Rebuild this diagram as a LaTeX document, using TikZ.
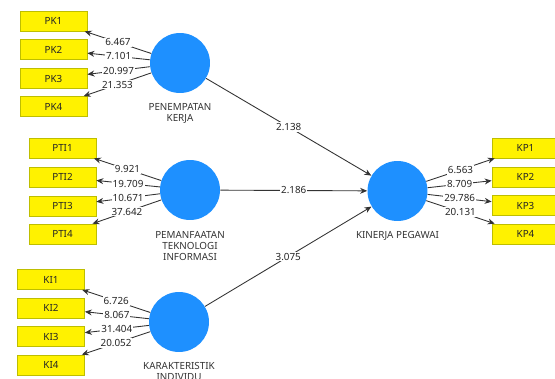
\documentclass[tikz,border=0pt]{standalone}
\usepackage{fontspec}
\setmainfont{Noto Sans}
\usetikzlibrary{positioning,arrows.meta}

\definecolor{plsblue}{RGB}{30,144,255}
\definecolor{boxedge}{RGB}{190,190,0}

\tikzset{
  construct/.style={circle, fill=plsblue, minimum size=1.2cm, inner sep=0pt},
  indicator/.style={draw=boxedge, fill=yellow, minimum width=1.34cm, minimum height=0.4cm,
    inner sep=0pt, text=black!85, font=\fontsize{5.6}{6.4}\selectfont},
  cname/.style={align=center, inner sep=0pt, text=black!80, font=\fontsize{5.6}{6.2}\selectfont},
  link/.style={draw=black!80, line width=0.5pt, -{Stealth[length=4pt,width=3.4pt]}},
  weight/.style={midway, fill=white, inner sep=0.6pt, text=black!85, font=\fontsize{5.6}{6.4}\selectfont}
}

\begin{document}
\begin{tikzpicture}[x=0.02cm, y=-0.02cm]

    % --- Frame ---
    % Picture area, cut like the screenshot
    \useasboundingbox (0,0) rectangle (555,379);
    \clip (0,0) rectangle (555,379);

    % --- Constructs ---
    \node[construct] (pk)  at (180,63)    {};
    \node[construct] (pti) at (190,190)   {};
    \node[construct] (ki)  at (179,322)   {};
    \node[construct] (kp)  at (397.5,191) {};

    % --- Construct names ---
    \node[cname, below=0.2cm of pk]  (pkname)  {PENEMPATAN\\KERJA};
    \node[cname, below=0.22cm of pti] (ptiname) {PEMANFAATAN\\TEKNOLOGI\\INFORMASI};
    \node[cname, below=0.2cm of ki]  (kiname)  {KARAKTERISTIK\\INDIVIDU};
    \node[cname, below=0.2cm of kp]  (kpname)  {KINERJA PEGAWAI};

    % --- Indicators ---
    % Left column, PENEMPATAN KERJA
    \node[indicator] (pk1) at (53.5,21)    {PK1};
    \node[indicator] (pk2) at (53.5,49.5)  {PK2};
    \node[indicator] (pk3) at (53.5,78.5)  {PK3};
    \node[indicator] (pk4) at (53.5,106.5) {PK4};

    % Left column, PEMANFAATAN TEKNOLOGI INFORMASI
    \node[indicator] (pti1) at (62.5,148) {PTI1};
    \node[indicator] (pti2) at (62.5,177) {PTI2};
    \node[indicator] (pti3) at (62.5,206) {PTI3};
    \node[indicator] (pti4) at (62.5,234) {PTI4};

    % Left column, KARAKTERISTIK INDIVIDU
    \node[indicator] (ki1) at (51,279.5) {KI1};
    \node[indicator] (ki2) at (51,308)   {KI2};
    \node[indicator] (ki3) at (51,336.5) {KI3};
    \node[indicator] (ki4) at (51,365)   {KI4};

    % Right column, KINERJA PEGAWAI
    \node[indicator] (kp1) at (525.5,148)   {KP1};
    \node[indicator] (kp2) at (525.5,177)   {KP2};
    \node[indicator] (kp3) at (525.5,205.5) {KP3};
    \node[indicator] (kp4) at (525.5,234)   {KP4};

    % --- Outer loadings ---
    \draw[link] (pk) -- node[weight] {6.467}  (pk1);
    \draw[link] (pk) -- node[weight] {7.101}  (pk2);
    \draw[link] (pk) -- node[weight] {20.997} (pk3);
    \draw[link] (pk) -- node[weight] {21.353} (pk4);

    \draw[link] (pti) -- node[weight] {9.921}  (pti1);
    \draw[link] (pti) -- node[weight] {19.709} (pti2);
    \draw[link] (pti) -- node[weight] {10.671} (pti3);
    \draw[link] (pti) -- node[weight] {37.642} (pti4);

    \draw[link] (ki) -- node[weight] {6.726}  (ki1);
    \draw[link] (ki) -- node[weight] {8.067}  (ki2);
    \draw[link] (ki) -- node[weight] {31.404} (ki3);
    \draw[link] (ki) -- node[weight] {20.052} (ki4);

    \draw[link] (kp) -- node[weight] {6.563}  (kp1);
    \draw[link] (kp) -- node[weight] {8.709}  (kp2);
    \draw[link] (kp) -- node[weight] {29.786} (kp3);
    \draw[link] (kp) -- node[weight] {20.131} (kp4);

    % --- Inner paths ---
    \draw[link] (pk)  -- node[weight] {2.138} (kp);
    \draw[link] (pti) -- node[weight] {2.186} (kp);
    \draw[link] (ki)  -- node[weight] {3.075} (kp);

\end{tikzpicture}
\end{document}
